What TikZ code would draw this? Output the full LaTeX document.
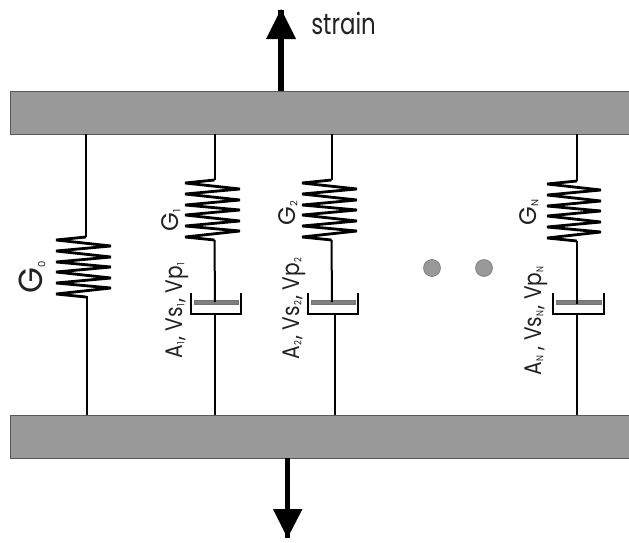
\documentclass[tikz,border=0pt]{standalone}
\usepackage{fontspec}
\setmainfont{Poppins}
\newfontfamily\labfont[FakeStretch=0.84]{Poppins}
\newfontfamily\strainfont[FakeStretch=0.78]{Poppins}
\definecolor{plategray}{HTML}{999999}
\definecolor{pistongray}{HTML}{808080}
\definecolor{inktext}{HTML}{222222}
\tikzset{
  plate/.style={draw=black!65,line width=0.5pt,fill=plategray,minimum width=619*0.75pt,minimum height=43*0.75pt,inner sep=0pt,outer sep=0pt},
  wire/.style={draw=black,line width=1.5pt},
  coil/.style={draw=black,line width=2.1pt,line join=bevel},
  cup/.style={draw=black,line width=1.5pt,line join=miter},
  piston/.style={draw=black!55,line width=0.6pt,fill=pistongray},
  bigarrow/.style={draw=black,line width=3.8pt},
  dothole/.style={circle,draw=black!55,line width=0.4pt,fill=black!40,minimum size=17*0.75pt,inner sep=0pt},
  lab/.style={text=inktext,font=\labfont\fontsize{18}{18}\selectfont,inner sep=0pt,rotate=90,anchor=base},
  gsmall/.style={text=inktext,font=\fontsize{18}{18}\selectfont,inner sep=0pt,rotate=90,anchor=base},
  glab/.style={text=inktext,font=\fontsize{25}{25}\selectfont,inner sep=0pt,rotate=90,anchor=base},
}
\newcommand{\sbs}[1]{\raisebox{-0.1em}{\fontsize{7.5}{7.5}\selectfont #1}\kern1.2pt}
% spring: #1 x of attachment, #2 y of start, #3 left x, #4 width
\newcommand{\drawcoil}[5]{%
  \coordinate (#5top) at (#1,#2);
  \coordinate (#5bot) at (#1,#2+60);
  \draw[coil] (#5top) -- (#3,#2+3) -- (#3+#4,#2+9) -- (#3,#2+14) -- (#3+#4,#2+20) -- (#3,#2+25)
     -- (#3+#4,#2+30) -- (#3,#2+35) -- (#3+#4,#2+41) -- (#3,#2+46) -- (#3+#4,#2+51) -- (#3,#2+57) -- (#5bot);
}
% dashpot: #1 left, #2 right, #3 name
\newcommand{\drawpot}[3]{%
  \coordinate (#3pist) at ({(#1+#2)/2},302);
  \coordinate (#3cupl) at (#1,293);
  \coordinate (#3cupr) at (#2,293);
  \draw[cup] (#3cupl) -- (#1,314) -- (#2,314) -- (#3cupr);
  \draw[piston] (#1+3,300) rectangle (#2-3,304.5);
}
\begin{document}
\begin{tikzpicture}[x=0.75pt,y=-0.75pt]
\useasboundingbox (0,0) rectangle (629,543);
\node[plate,anchor=north west] (top) at (10,91) {};
\node[plate,anchor=north west] (bottom) at (10,415) {};

% arrows
\coordinate (upend) at (281,10);
\coordinate (downend) at (287.5,538);
\draw[bigarrow] (top.north -| upend) -- (upend);
\fill[black] (266,39) -- (296,39) -- (281,9) -- cycle;
\draw[bigarrow] (bottom.south -| downend) -- (downend);
\fill[black] (273,509) -- (302.5,509) -- (287.5,538) -- cycle;
\node[anchor=base west,text=inktext,font=\strainfont\fontsize{22}{22}\selectfont,inner sep=0pt] (strain) at (311,34) {strain};

% G0
\drawcoil{86}{237}{56}{55}{a}
\draw[wire] (top.south -| atop) -- (atop);
\draw[wire] (abot) -- (87,297) -- (bottom.north -| 87,0);

% G1
\drawcoil{214.5}{180}{185}{55}{b}
\drawpot{191}{241}{b}
\draw[wire] (top.south -| btop) -- (btop);
\draw[wire] (bbot) -- (215,302);
\coordinate (blow) at (215,314);
\draw[wire] (blow) -- (bottom.north -| blow);

% G2
\drawcoil{331.5}{180}{302}{55}{c}
\drawpot{308}{358}{c}
\draw[wire] (top.south -| ctop) -- (ctop);
\draw[wire] (cbot) -- (332,302);
\coordinate (clow) at (335,314);
\draw[wire] (clow) -- (bottom.north -| clow);

% GN
\drawcoil{577}{181}{547}{54}{d}
\drawpot{553}{604}{d}
\draw[wire] (top.south -| dtop) -- (dtop);
\draw[wire] (dbot) -- (577,304);
\coordinate (dlow) at (577,314);
\draw[wire] (dlow) -- (bottom.north -| dlow);

% dots
\node[dothole] (dot1) at (432,268) {};
\node[dothole] (dot2) at (484,268) {};

% labels
\node[glab] (g0) at (42,277) {G\sbs{0}};
\node[gsmall] (g1) at (178,219.5) {G\sbs{1}};
\node[gsmall] (g2) at (295,212) {G\sbs{2}};
\node[gsmall] (gn) at (536,212) {G\sbs{N}};
\node[lab] (l1) at (182,310) {A\sbs{1}, Vs\sbs{1}, Vp\sbs{1}};
\node[lab] (l2) at (299,308) {A\sbs{2}, Vs\sbs{2}, Vp\sbs{2}};
\node[lab] (ln) at (541,320) {A\sbs{N}\,, Vs\sbs{N}, Vp\sbs{N}};
\end{tikzpicture}
\end{document}
